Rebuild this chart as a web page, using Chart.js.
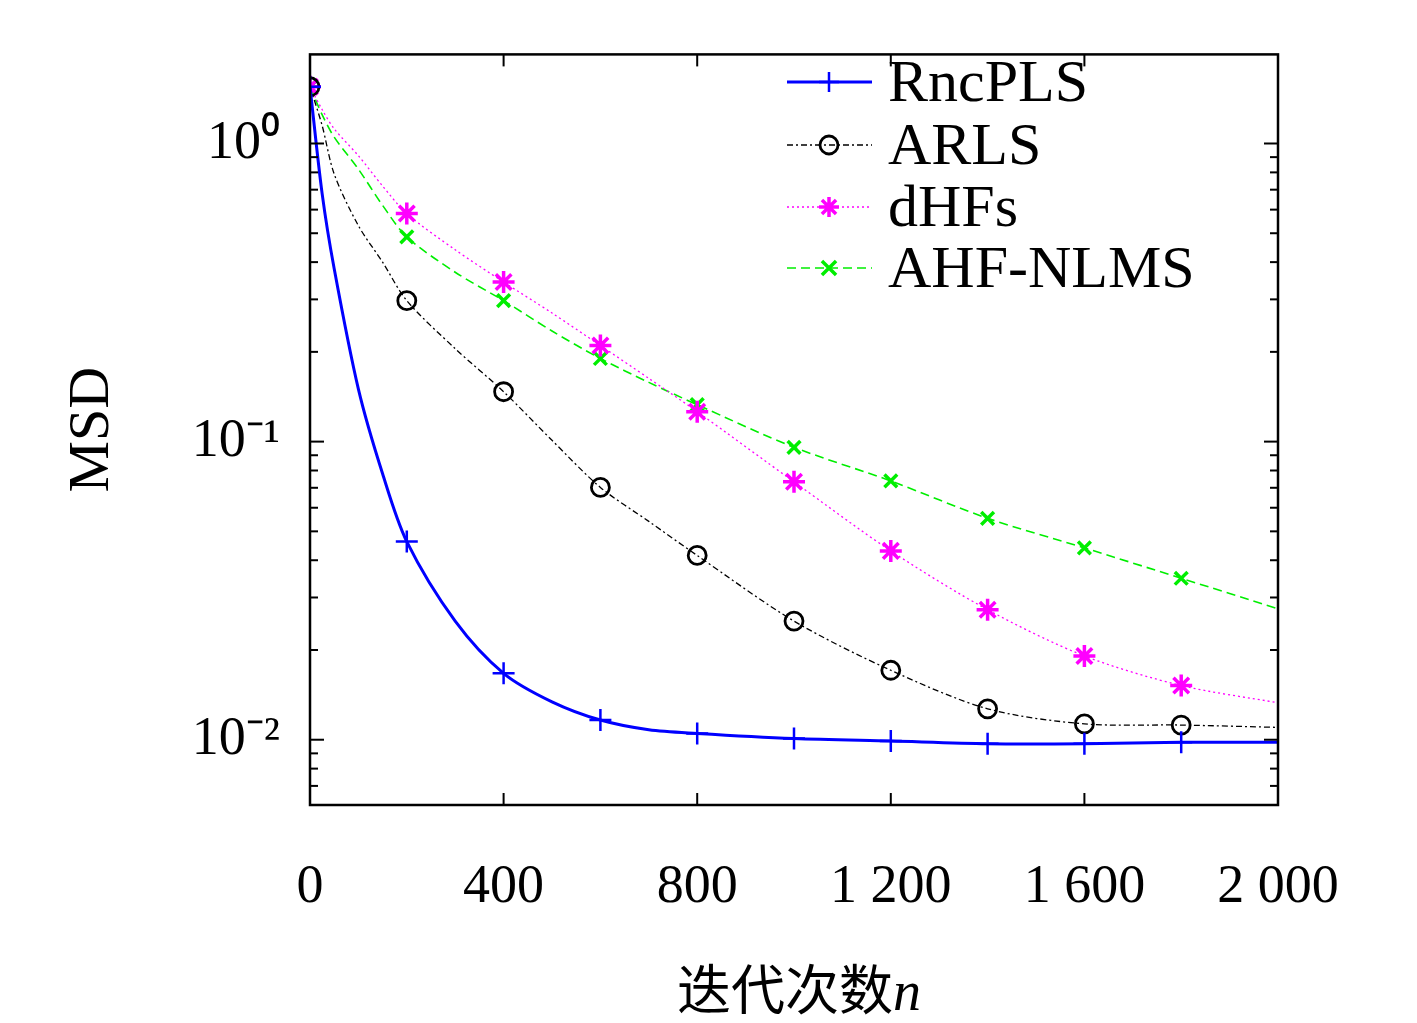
<!DOCTYPE html><html><head><meta charset="utf-8">
<script src="https://cdn.jsdelivr.net/npm/chart.js@4"></script>
<style>body{margin:0;background:#fff}#w{width:1417px;height:1023px}</style></head><body><div id="w"><canvas id="c"></canvas></div>
<script>
const xs=[0,25,50,100,150,200,300,400,500,600,700,800,1000,1200,1400,1600,1800,2000];
const markerX=[0,200,400,600,800,1000,1200,1400,1600,1800];
const rnc=[1.55,0.68,0.38,0.15,0.078,0.0462,0.025,0.0167,0.0134,0.01164,0.0108,0.0105,0.0101,0.0099,0.0097,0.0097,0.0098,0.0098];
const arls=[1.55,1.15,0.79,0.53,0.40,0.297,0.205,0.147,0.101,0.0702,0.054,0.0415,0.025,0.0171,0.0127,0.0113,0.0112,0.011];
const dhfs=[1.55,1.3,1.12,0.91,0.72,0.582,0.44,0.343,0.27,0.21,0.163,0.126,0.0733,0.043,0.0273,0.0191,0.0152,0.0133];
const ahf=[1.55,1.25,1.05,0.82,0.62,0.486,0.37,0.297,0.235,0.19,0.158,0.133,0.0957,0.0738,0.0553,0.044,0.0348,0.0275];
const yTicks=[0.01,0.1,1];
const xTicks=[0,400,800,1200,1600,2000];
const names=['RncPLS','ARLS','dHFs','AHF-NLMS'];
const FONT='"Liberation Serif", serif';
function mk(arr){return xs.map((x,i)=>({x,y:arr[i]}));}
function rad(r){return xs.map(x=>markerX.includes(x)?r:0);}
const ds=[
{label:names[0],data:mk(rnc),borderColor:'#0000ff',borderWidth:3,pointStyle:'cross',pointRadius:rad(11),pointBorderWidth:2.5,tension:0.3},
{label:names[1],data:mk(arls),borderColor:'#000',borderWidth:1.3,borderDash:[6,3,2,3],pointStyle:'circle',pointRadius:rad(9),pointBorderWidth:2.8,tension:0.3},
{label:names[2],data:mk(dhfs),borderColor:'#ff00ff',borderWidth:1.3,borderDash:[2,3],pointStyle:'star',pointRadius:rad(11),pointBorderWidth:3.5,tension:0.3},
{label:names[3],data:mk(ahf),borderColor:'#00ee00',borderWidth:1.6,borderDash:[9,5],pointStyle:'crossRot',pointRadius:rad(9),pointBorderWidth:3.5,tension:0.3}];
ds.forEach(d=>{d.pointBorderColor=d.borderColor;d.backgroundColor=d.label==='ARLS'?'rgba(0,0,0,0)':d.borderColor;d.pointBackgroundColor=d.backgroundColor;});
const deco={id:'deco',afterDraw(ch){
 const c=ch.ctx,a=ch.chartArea,x=ch.scales.x,y=ch.scales.y;
 c.save();c.strokeStyle='#000';c.lineWidth=2.5;c.setLineDash([]);
 c.strokeRect(a.left,a.top,a.right-a.left,a.bottom-a.top);
 c.lineWidth=2;
 xTicks.forEach(v=>{const p=x.getPixelForValue(v);c.beginPath();c.moveTo(p,a.bottom);c.lineTo(p,a.bottom-12);c.stroke();c.beginPath();c.moveTo(p,a.top);c.lineTo(p,a.top+12);c.stroke();});
 for(let e=-3;e<=0;e++)for(let m=1;m<=9;m++){const v=m*Math.pow(10,e);if(v<y.min||v>y.max)continue;const p=y.getPixelForValue(v);const L=m===1?14:8;
  c.beginPath();c.moveTo(a.left,p);c.lineTo(a.left+L,p);c.stroke();c.beginPath();c.moveTo(a.right,p);c.lineTo(a.right-L,p);c.stroke();}
 c.fillStyle='#000';c.textBaseline='alphabetic';
 c.font='54px "Noto Sans CJK SC"';const t='迭代次数';const w1=c.measureText(t).width;
 c.font='italic 56px '+FONT;const w2=c.measureText('n').width;
 const cx=(a.left+a.right)/2+5,sx=cx-(w1+w2)/2;
 c.font='54px "Noto Sans CJK SC"';c.textAlign='left';c.fillText(t,sx,1010);
 c.font='italic 56px '+FONT;c.fillText('n',sx+w1,1010);
 c.save();c.translate(108,(a.top+a.bottom)/2);c.rotate(-Math.PI/2);c.font='58px '+FONT;c.textAlign='center';c.fillText('MSD',0,0);c.restore();
 const rows=[82,145,207,268];
 ch.data.datasets.forEach((d,i)=>{const yy=rows[i];c.strokeStyle=d.borderColor;c.lineWidth=d.borderWidth;c.setLineDash(d.borderDash||[]);
  c.beginPath();c.moveTo(787,yy);c.lineTo(872,yy);c.stroke();c.setLineDash([]);
  c.fillStyle=d.backgroundColor;c.strokeStyle=d.borderColor;c.lineWidth=d.pointBorderWidth;
  Chart.helpers.drawPoint(c,{pointStyle:d.pointStyle,radius:d.label==='ARLS'?9:10,rotation:0,borderWidth:d.pointBorderWidth},829,yy);
  c.fillStyle='#000';c.font='60px '+FONT;c.textAlign='left';c.textBaseline='middle';c.fillText(d.label,888,yy+3);});
 c.restore();}};
new Chart(document.getElementById('c'),{type:'line',data:{datasets:ds},plugins:[deco],
options:{responsive:true,maintainAspectRatio:false,animation:false,
layout:{padding:{top:-46,right:139,left:0,bottom:0}},
plugins:{legend:{display:false},tooltip:{enabled:false}},
scales:{
x:{type:'linear',min:0,max:2000,afterBuildTicks:s=>{s.ticks=xTicks.map(v=>({value:v}));},afterFit:s=>{s.height=218;},
 grid:{display:false},border:{display:false},
 ticks:{padding:42,color:'#000',font:{family:FONT,size:54},maxRotation:0,callback:v=>v>=1000?String(v).replace(/(\d)(\d{3})$/,'$1 $2'):String(v)}},
y:{type:'logarithmic',min:0.00604,max:1.99,afterBuildTicks:s=>{s.ticks=yTicks.map(v=>({value:v}));},afterFit:s=>{s.width=310;},
 grid:{display:false},border:{display:false},
 ticks:{padding:22,color:'#000',font:{family:FONT,size:54},callback:v=>({0.01:'10⁻²',0.1:'10⁻¹',1:'10⁰'})[v]||''}}}}});
</script></body></html>
